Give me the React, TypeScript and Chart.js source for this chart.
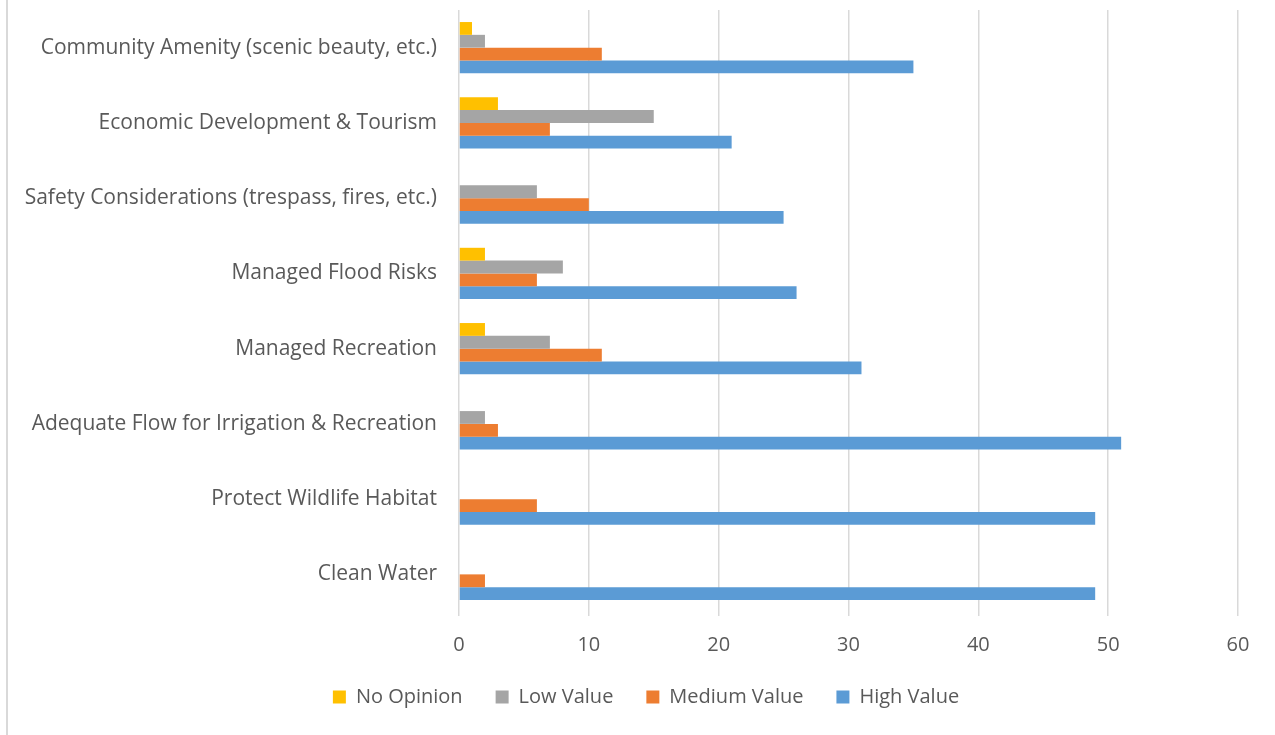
import React, { useEffect, useRef } from "react";
import { Chart, registerables } from "chart.js";

Chart.register(...registerables);

const categories = [
  "Community Amenity (scenic beauty, etc.)",
  "Economic Development & Tourism",
  "Safety Considerations (trespass, fires, etc.)",
  "Managed Flood Risks",
  "Managed Recreation",
  "Adequate Flow for Irrigation & Recreation",
  "Protect Wildlife Habitat",
  "Clean Water",
];

const noOpinion = [1, 3, 0, 2, 2, 0, 0, 0];
const lowValue = [2, 15, 6, 8, 7, 2, 0, 0];
const mediumValue = [11, 7, 10, 6, 11, 3, 6, 2];
const highValue = [35, 21, 25, 26, 31, 51, 49, 49];

const seriesNames = ["No Opinion", "Low Value", "Medium Value", "High Value"];
const seriesColors = ["#FFC000", "#A5A5A5", "#ED7D31", "#5B9BD5"];

const xMin = 0;
const xMax = 60;
const xStep = 10;

const FONT = "'Open Sans', sans-serif";
const TEXT = "#595959";

const legendShift = {
  id: "legendShift",
  afterLayout(chart: any) {
    const lg = chart.legend;
    if (lg) {
      lg.left += 27;
      lg.right += 27;
    }
  },
};

export default function App() {
  const ref = useRef<HTMLCanvasElement | null>(null);

  useEffect(() => {
    document.body.style.margin = "0";
    const canvas = ref.current;
    if (!canvas) return;
    const values = [noOpinion, lowValue, mediumValue, highValue];
    const chart = new Chart(canvas, {
      type: "bar",
      data: {
        labels: categories,
        datasets: values.map((v, i) => ({
          label: seriesNames[i],
          data: v,
          backgroundColor: seriesColors[i],
          borderWidth: 0,
          categoryPercentage: 0.68,
          barPercentage: 1.0,
        })),
      },
      plugins: [legendShift],
      options: {
        indexAxis: "y",
        responsive: false,
        animation: false,
        layout: { padding: { top: 10, right: 37, bottom: 18, left: 0 } },
        plugins: {
          legend: {
            position: "bottom",
            labels: {
              color: TEXT,
              font: { family: FONT, size: 20 },
              boxWidth: 13,
              boxHeight: 13,
              padding: 33,
            },
          },
          tooltip: { enabled: false },
        },
        scales: {
          x: {
            min: xMin,
            max: xMax,
            ticks: {
              stepSize: xStep,
              color: TEXT,
              font: { family: FONT, size: 20 },
              padding: 17,
            },
            grid: { color: "#d9d9d9", lineWidth: 1.5, tickLength: 4 },
            border: { display: false },
            afterFit: (s: any) => {
              s.height = 42;
              s.paddingLeft = 0;
              s.paddingRight = 0;
            },
          },
          y: {
            ticks: {
              color: TEXT,
              font: { family: FONT, size: 21 },
              padding: 22,
            },
            grid: { display: false, drawTicks: false },
            border: { display: false },
            afterFit: (s: any) => {
              s.width = 459;
              s.paddingTop = 0;
              s.paddingBottom = 0;
            },
          },
        },
      },
    });
    return () => chart.destroy();
  }, []);

  return (
    <div style={{ position: "relative", width: 1275, height: 735, background: "#fff" }}>
      <div
        style={{
          position: "absolute",
          left: 6,
          top: 0,
          width: 2,
          height: 735,
          background: "#d9d9d9",
        }}
      />
      <canvas ref={ref} width={1275} height={735} style={{ display: "block" }} />
    </div>
  );
}
